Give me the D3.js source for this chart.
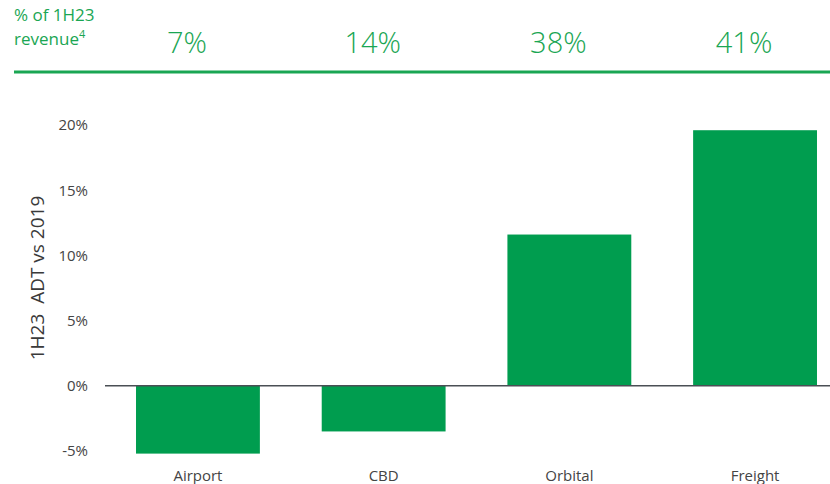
<!DOCTYPE html>
<html>
<head>
<meta charset="utf-8">
<script src="https://cdn.jsdelivr.net/npm/d3@7"></script>
<style>
  body { margin: 0; background: #fff; }
  text { font-family: "Open Sans", sans-serif; }
</style>
</head>
<body>
<svg id="chart" width="830" height="484"></svg>
<script>
const categories = ['Airport', 'CBD', 'Orbital', 'Freight'];
const adtVs2019 = [-5.2, -3.5, 11.6, 19.6];
const revenueShare = ['7%', '14%', '38%', '41%'];
const yTicks = [-5, 0, 5, 10, 15, 20];

const green = '#009d4f';
const headGreen = '#1aa653';
const svg = d3.select('#chart');

const x = d3.scaleBand()
  .domain(categories)
  .range([105, 848])
  .paddingInner(0.333)
  .paddingOuter(0.167);

const y = d3.scaleLinear()
  .domain([-5, 20])
  .range([451, 125]);

// header
const head = svg.append('g').attr('class', 'header');
head.append('text')
  .attr('x', 14).attr('y', 21)
  .attr('fill', headGreen)
  .attr('font-size', 17)
  .text('% of 1H23');
const rev = head.append('text')
  .attr('x', 14).attr('y', 45)
  .attr('fill', headGreen)
  .attr('font-size', 17)
  .text('revenue');
rev.append('tspan')
  .attr('dy', -7)
  .attr('font-size', 11)
  .text('4');

head.selectAll('text.share')
  .data(categories)
  .enter()
  .append('text')
  .attr('class', 'share')
  .attr('x', (d, i) => x(d) + x.bandwidth() / 2 - 11)
  .attr('y', 53)
  .attr('text-anchor', 'middle')
  .attr('fill', headGreen)
  .attr('font-size', 29)
  .attr('font-weight', 300)
  .text((d, i) => revenueShare[i]);

head.append('line')
  .attr('x1', 14).attr('x2', 830)
  .attr('y1', 72).attr('y2', 72)
  .attr('stroke', headGreen)
  .attr('stroke-width', 3);

// y axis
const yAxis = svg.append('g')
  .attr('transform', 'translate(88,0)')
  .call(d3.axisLeft(y).tickValues(yTicks).tickSize(0).tickPadding(0).tickFormat(d => d + '%'));
yAxis.select('.domain').remove();
yAxis.selectAll('text')
  .attr('font-size', 15)
  .attr('fill', '#444')
  .attr('font-family', '"Open Sans", sans-serif');

svg.append('text')
  .attr('transform', 'translate(44,' + 278 + ') rotate(-90)')
  .attr('text-anchor', 'middle')
  .attr('fill', '#3a3a3a')
  .attr('font-size', 19)
  .attr('xml:space', 'preserve')
  .text('1H23  ADT vs 2019');

// bars
svg.append('g')
  .selectAll('rect')
  .data(categories)
  .enter()
  .append('rect')
  .attr('x', d => x(d))
  .attr('width', x.bandwidth())
  .attr('y', (d, i) => y(Math.max(0, adtVs2019[i])))
  .attr('height', (d, i) => Math.abs(y(adtVs2019[i]) - y(0)))
  .attr('fill', green);

// zero line
svg.append('line')
  .attr('x1', 105).attr('x2', 830)
  .attr('y1', y(0)).attr('y2', y(0))
  .attr('stroke', '#4a4f55')
  .attr('stroke-width', 1.5);

// category labels
svg.append('g')
  .selectAll('text')
  .data(categories)
  .enter()
  .append('text')
  .attr('x', d => x(d) + x.bandwidth() / 2)
  .attr('y', 481)
  .attr('text-anchor', 'middle')
  .attr('fill', '#444')
  .attr('font-size', 15)
  .text(d => d);
</script>
</body>
</html>
